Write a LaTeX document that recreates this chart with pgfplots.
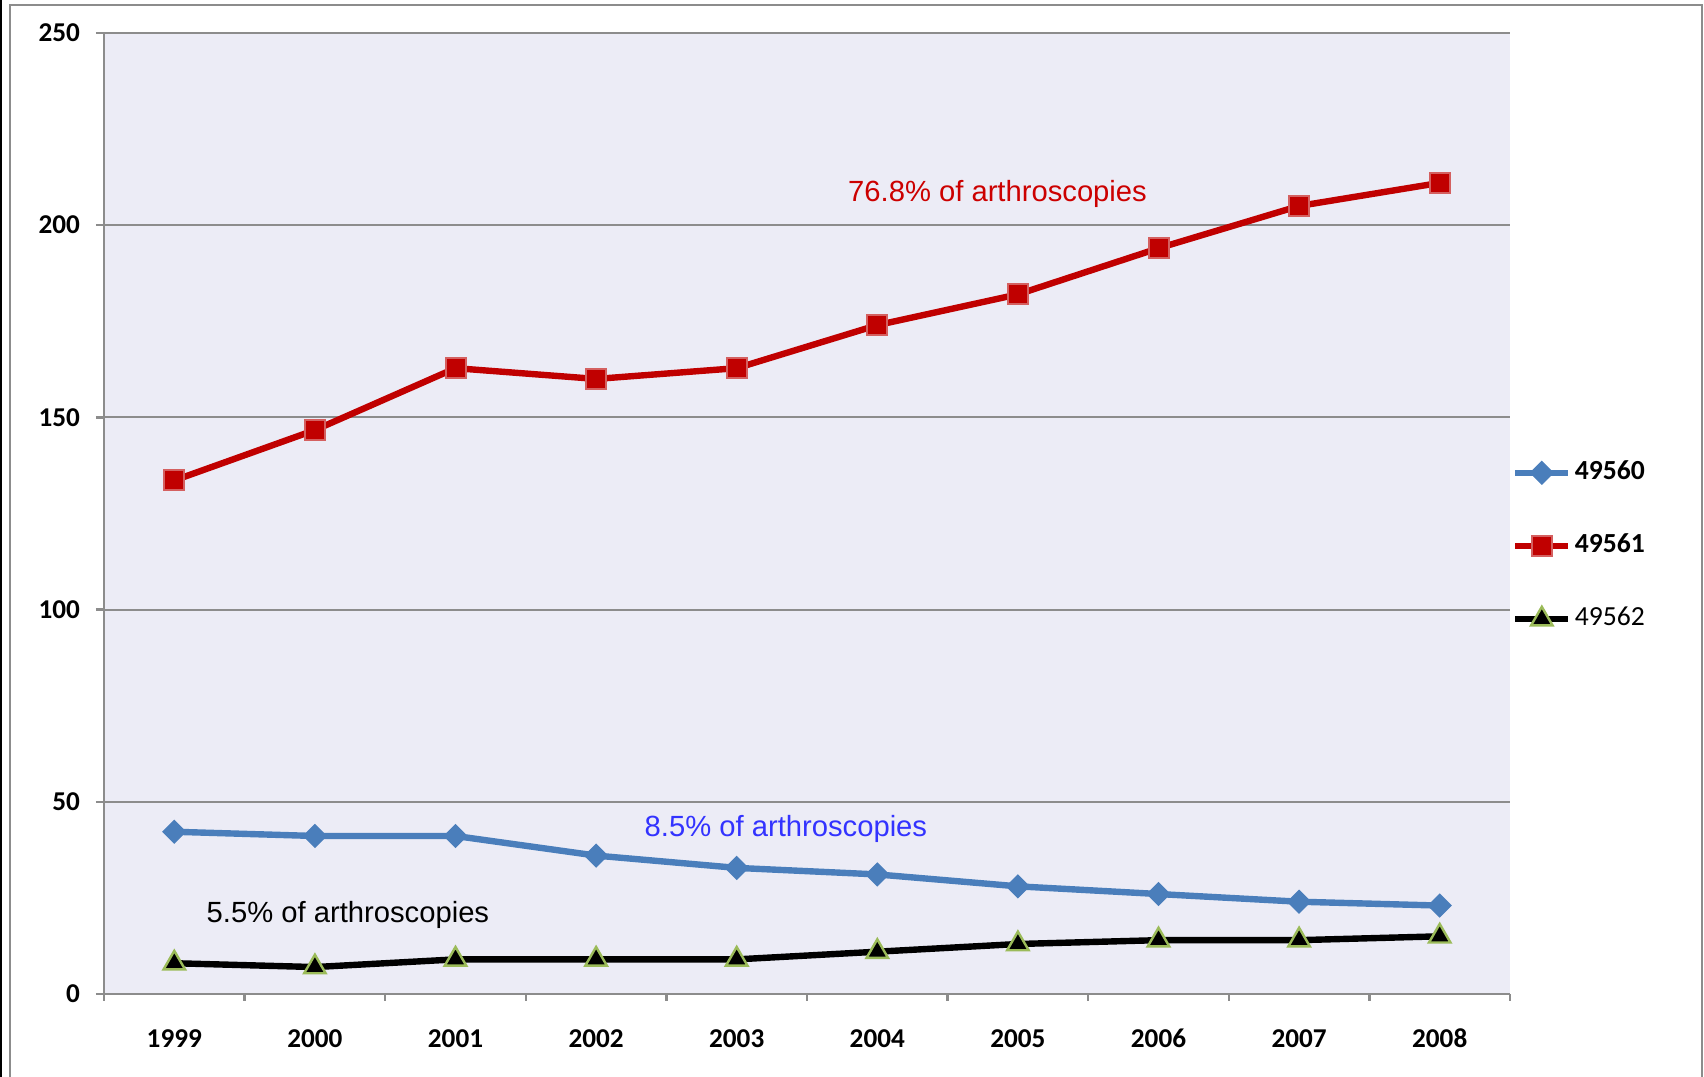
\documentclass[border=0pt]{standalone}
\usepackage{pgfplots}
\pgfplotsset{compat=1.18}
\usepackage{fontspec}
\setmainfont{Liberation Sans}
\newfontfamily\carlito{Carlito}

\definecolor{bluel}{RGB}{74,126,187}
\definecolor{redl}{RGB}{192,0,0}
\definecolor{redrim}{RGB}{212,96,96}
\definecolor{greenrim}{RGB}{155,187,89}
\definecolor{plotbg}{RGB}{236,236,246}
\definecolor{gridc}{RGB}{140,140,140}
\definecolor{bluetxt}{RGB}{51,51,255}
\definecolor{redtxt}{RGB}{204,0,0}

\begin{document}
\begin{tikzpicture}
\path[use as bounding box] (0,0) rectangle (426pt,269.25pt);
% outer chart frame
\draw[gridc, line width=0.5pt] (2.5pt,-1pt) -- (2.5pt,267.9pt) -- (425.6pt,267.9pt) -- (425.6pt,-1pt);
\draw[black, line width=0.4pt] (0.2pt,-1pt) -- (0.2pt,270pt);

\begin{axis}[
  at={(26pt,20.75pt)}, anchor=south west,
  scale only axis, width=351.5pt, height=240.25pt,
  xmin=-0.5, xmax=9.5, ymin=0, ymax=250,
  axis x line*=bottom, axis y line*=left,
  axis line style={gridc, line width=0.6pt, -},
  axis background/.style={fill=plotbg},
  xtick={0,...,9},
  xticklabels={1999,2000,2001,2002,2003,2004,2005,2006,2007,2008},
  major x tick style={draw=none},
  minor xtick={-0.5,0.5,...,9.5},
  minor x tick style={gridc, line width=0.6pt},
  ytick={0,50,...,250},
  y tick style={gridc, line width=0.6pt},
  tick align=outside,
  major tick length=2pt, minor tick length=1.75pt,
  ymajorgrids, grid style={gridc, line width=0.5pt},
  /pgf/number format/assume math mode=true,
  tick label style={font=\carlito\bfseries\fontsize{6.8}{7.8}\selectfont, black},
  xticklabel style={anchor=base, yshift=-11.4pt},
  yticklabel style={xshift=-0.5pt},
  legend style={at={(1.001,0.4662)}, anchor=west, draw=none, fill=none,
    font=\carlito\fontsize{6.9}{7.9}\selectfont, row sep=8.1pt,
    inner xsep=0pt, inner ysep=0pt, nodes={inner xsep=0.8pt}},
  legend cell align=left,
  legend image code/.code={%
    \draw[mark repeat=2,mark phase=2,#1] plot coordinates {(0pt,0pt) (6.6pt,0pt) (13.25pt,0pt)};},
]
\addplot[bluel, line width=1.6pt, mark=square*, mark size=2.0pt,
  mark options={rotate=45, fill=bluel, draw=bluel, line width=0.3pt}]
  coordinates {(0,42.2) (1,41.1) (2,41.1) (3,36) (4,32.8) (5,31.1) (6,28) (7,26) (8,24) (9,23)};
\addlegendentry{\textbf{49560}}
\addplot[redl, line width=1.6pt, mark=square*, mark size=2.5pt,
  mark options={fill=redl, draw=redrim, line width=0.5pt}]
  coordinates {(0,133.6) (1,146.7) (2,162.8) (3,160) (4,162.8) (5,174) (6,182) (7,194) (8,205) (9,211)};
\addlegendentry{\textbf{49561}}
\addplot[black, line width=1.6pt, mark=triangle*, mark size=3.1pt,
  mark options={fill=black, draw=greenrim, line width=0.6pt}]
  coordinates {(0,8) (1,7) (2,9) (3,9) (4,9) (5,11) (6,13) (7,14) (8,14) (9,15)};
\addlegendentry{49562}

\node[redtxt, font=\fontsize{7.3}{8.5}\selectfont] at (axis cs:5.855,208.1) {76.8\% of arthroscopies};
\node[bluetxt, font=\fontsize{7.3}{8.5}\selectfont] at (axis cs:4.35,42.9) {8.5\% of arthroscopies};
\node[black, font=\fontsize{7.3}{8.5}\selectfont, anchor=west, inner xsep=0pt] at (axis cs:0.225,20.6) {5.5\% of arthroscopies};
\end{axis}
\end{tikzpicture}
\end{document}
